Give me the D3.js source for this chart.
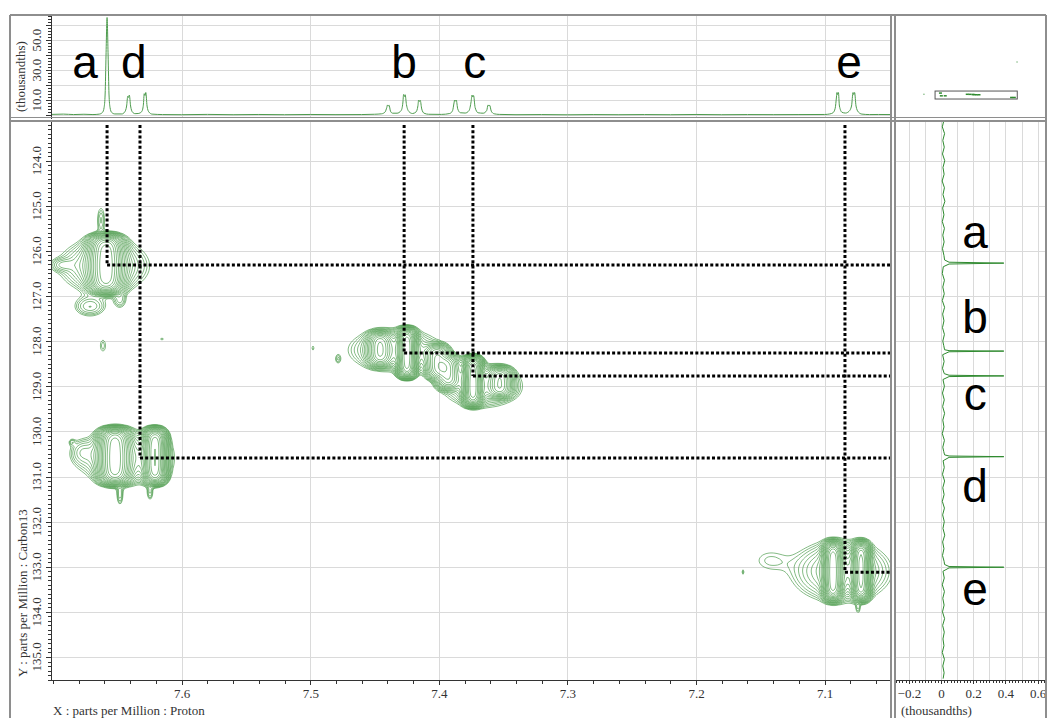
<!DOCTYPE html>
<html lang="en">
<head>
<meta charset="UTF-8">
<title>HSQC</title>
<script src="https://cdn.jsdelivr.net/npm/d3@7"></script>
<style>
  body { margin: 0; background: #fff; }
  .grid line { stroke: #dadada; stroke-width: 1; shape-rendering: crispEdges; }
  .axis path, .axis line { stroke: #333; stroke-width: 1; fill: none; shape-rendering: crispEdges; }
  .axis text, .lbl { font-family: "Liberation Serif", "Times New Roman", Tinos, "DejaVu Serif", serif; font-size: 13px; fill: #333; }
  .frame line { stroke: #8e8e8e; stroke-width: 1.6; shape-rendering: crispEdges; }
  .letter { font-family: "Liberation Sans", Arial, sans-serif; font-size: 46px; fill: #000; text-anchor: middle; }
  .guide { stroke: #000; stroke-width: 3; stroke-dasharray: 3 2.2; fill: none; }
</style>
</head>
<body>
<svg id="chart" width="1049" height="718"></svg>
<script>
// ---------------- data ----------------
var hTicks = [7.6, 7.5, 7.4, 7.3, 7.2, 7.1];
var cTicks = [124, 125, 126, 127, 128, 129, 130, 131, 132, 133, 134, 135];
var topTicks = [10, 30, 50];
var topGrid = [0, 10, 20, 30, 40, 50, 60];
var projTicks = [-0.2, 0, 0.2, 0.4, 0.6];
var projGrid = [-0.2, -0.1, 0, 0.1, 0.2, 0.3, 0.4, 0.5, 0.6];

var assignLabels = ["a", "b", "c", "d", "e"];
var assignH = [7.658, 7.427, 7.3735, 7.6324, 7.0842];
var assignC = [126.31, 128.26, 128.77, 130.59, 133.12];
var labelTopH = [7.6752, 7.427, 7.372, 7.6373, 7.0811];
var labelTopVal = 25;
var labelProjC = [125.94, 127.82, 129.53, 131.57, 133.85];
var labelProjVal = 0.212;

// 1H trace on top (ppm, thousandths)
var topSpec = [
  [7.7016,0.4],[7.692,0.6],[7.684,0.3],[7.676,0.5],[7.669,0.3],
  [7.664,0.6],[7.6615,1.8],[7.6603,5],[7.6595,14],[7.6588,40],[7.658,65],[7.6572,40],[7.6565,14],[7.6557,5],[7.6545,1.8],[7.652,0.7],
  [7.6465,0.7],[7.6443,2],[7.6428,6],[7.6419,12.5],[7.6413,11.7],[7.6407,13.3],[7.6397,6],[7.6383,2],[7.6362,0.9],
  [7.6338,1],[7.6311,2.2],[7.6298,6.5],[7.6291,14.2],[7.6285,13],[7.6279,15],[7.6269,6],[7.6255,2],[7.623,0.6],
  [7.615,0.3],[7.60,0.2],[7.58,0.4],[7.56,0.2],[7.54,0.35],[7.52,0.2],[7.50,0.35],[7.48,0.25],[7.46,0.3],[7.45,0.5],
  [7.4445,0.8],[7.4418,2],[7.4405,5],[7.4399,6.7],[7.4393,6],[7.4387,6.5],[7.4376,2.5],[7.436,1.2],
  [7.4325,1.2],[7.4293,3],[7.428,8],[7.4274,13.7],[7.4268,12.3],[7.4262,13.5],[7.4252,7],[7.4232,2.2],[7.4205,1],
  [7.4178,2],[7.4163,6],[7.4157,10],[7.4151,9],[7.4145,9.8],[7.4133,4],[7.4115,1.2],[7.408,0.5],
  [7.398,0.4],[7.3915,1],[7.3893,3],[7.3882,8],[7.3877,10],[7.3871,9.2],[7.3865,10],[7.3853,4],[7.3832,1.5],
  [7.3795,1.3],[7.3765,3],[7.3749,9],[7.3742,13.3],[7.3736,12],[7.373,13],[7.3718,5],[7.3695,1.5],
  [7.3655,1.2],[7.3628,3],[7.3617,6.7],[7.3611,6],[7.3605,6.5],[7.3592,2.5],[7.357,0.8],[7.353,0.4],
  [7.34,0.2],[7.32,0.3],[7.30,0.15],[7.28,0.3],[7.26,0.2],[7.24,0.3],[7.22,0.2],[7.20,0.35],[7.18,0.2],[7.16,0.3],[7.14,0.25],[7.12,0.3],[7.10,0.35],[7.096,0.7],
  [7.0935,1.5],[7.0918,4.5],[7.0908,12],[7.0904,15],[7.0899,13.6],[7.0893,15],[7.0885,6],[7.0865,1.8],
  [7.0838,1.3],[7.081,2.5],[7.0791,6],[7.0779,15],[7.0773,13.6],[7.0767,15],[7.0756,6],[7.0738,2],[7.071,0.6],
  [7.065,0.3],[7.058,0.35],[7.0484,0.3]
];

// 13C projection on the right (ppm, thousandths)
var projSpec = [
  [123.1,0.018],[123.25,0.008],[123.4,0.022],[123.55,0.011],[123.7,0.020],[123.85,0.009],[124.0,0.023],[124.15,0.012],
  [124.3,0.019],[124.45,0.007],[124.6,0.021],[124.75,0.012],[124.9,0.024],[125.05,0.010],[125.2,0.018],[125.35,0.008],
  [125.5,0.021],[125.65,0.011],[125.8,0.019],[125.95,0.009],[126.1,0.018],
  [126.2,0.022],[126.25,0.05],[126.27,0.39],[126.29,0.05],[126.35,0.014],[126.5,0.008],[126.65,0.021],[126.8,0.011],
  [126.95,0.020],[127.1,0.008],[127.25,0.022],[127.4,0.010],[127.55,0.018],[127.7,0.009],[127.85,0.021],[128.0,0.011],
  [128.1,0.017],[128.19,0.022],[128.21,0.05],[128.22,0.39],[128.235,0.05],[128.3,0.010],[128.45,0.019],[128.6,0.009],
  [128.72,0.02],[128.755,0.05],[128.77,0.39],[128.785,0.05],[128.85,0.012],[129.0,0.021],[129.15,0.009],
  [129.3,0.020],[129.45,0.010],[129.6,0.022],[129.75,0.011],[129.9,0.018],[130.05,0.008],[130.2,0.021],[130.35,0.011],
  [130.45,0.017],[130.52,0.022],[130.545,0.05],[130.56,0.39],[130.575,0.05],[130.65,0.013],[130.8,0.020],[130.95,0.009],
  [131.1,0.022],[131.25,0.011],[131.4,0.019],[131.55,0.008],[131.7,0.021],[131.85,0.010],[132.0,0.020],[132.15,0.012],
  [132.3,0.023],[132.45,0.010],[132.6,0.018],[132.75,0.009],[132.88,0.019],
  [132.95,0.022],[132.995,0.05],[133.01,0.39],[133.025,0.05],[133.1,0.012],[133.25,0.020],[133.4,0.008],
  [133.55,0.021],[133.7,0.011],[133.85,0.019],[134.0,0.009],[134.15,0.022],[134.3,0.010],[134.45,0.020],
  [134.6,0.012],[134.75,0.018],[134.9,0.008],[135.05,0.021],[135.2,0.011],[135.35,0.019],[135.48,0.013]
];

// cross peaks: [H ppm, C ppm, H width, C width, intensity, C shape]
var crossPeaks = [
  // a
  [7.6588, 126.29, 0.0093, 0.5765, 1.0, 6],
  [7.6604, 126.33, 0.0250, 0.44, 0.15, 2],
  [7.6930, 126.31, 0.0080, 0.12, 0.045, 2],
  [7.6627, 125.31, 0.0031, 0.31, 0.04, 2],
  [7.6713, 127.23, 0.0109, 0.20, 0.06, 2],
  [7.6480, 127.09, 0.0047, 0.18, 0.04, 2],
  [7.6612, 128.10, 0.0031, 0.20, 0.03, 2],
  [7.6153, 127.953, 0.0019, 0.0554, 0.028, 2],
  // d
  [7.6519, 130.548, 0.0086, 0.554, 1.0, 6],
  [7.6207, 130.548, 0.0062, 0.554, 0.85, 6],
  [7.6441, 130.59, 0.0272, 0.44, 0.13, 2],
  [7.6853, 130.237, 0.0023, 0.0665, 0.03, 2],
  [7.6775, 130.46, 0.0080, 0.24, 0.04, 2],
  [7.6480, 131.41, 0.0023, 0.22, 0.045, 2],
  [7.6246, 131.35, 0.0023, 0.18, 0.04, 2],
  // b
  [7.4248, 128.264, 0.0051, 0.488, 1.0, 6],
  [7.4458, 128.175, 0.0070, 0.33, 0.4, 4],
  [7.4014, 128.463, 0.0070, 0.33, 0.35, 4],
  [7.4341, 128.196, 0.0272, 0.36, 0.12, 2],
  // c
  [7.3735, 128.885, 0.0051, 0.488, 1.0, 6],
  [7.3929, 128.685, 0.0070, 0.33, 0.35, 4],
  [7.3525, 128.907, 0.0070, 0.29, 0.4, 4],
  [7.3665, 128.995, 0.0233, 0.36, 0.12, 2],
  [7.4979, 128.153, 0.0019, 0.0887, 0.026, 2],
  [7.4784, 128.397, 0.0023, 0.111, 0.03, 2],
  // e
  [7.0935, 133.098, 0.0051, 0.576, 1.0, 6],
  [7.0717, 133.098, 0.0047, 0.576, 0.9, 6],
  [7.0873, 133.10, 0.0280, 0.50, 0.15, 2],
  [7.1431, 132.86, 0.0156, 0.30, 0.025, 2],
  [7.1635, 133.12, 0.0016, 0.0887, 0.025, 2],
  [7.0725, 131.878, 0.0019, 0.0554, 0.025, 2],
  [7.0740, 133.918, 0.0016, 0.133, 0.03, 2]
];
var levels = [0.02, 0.025, 0.031, 0.039, 0.049, 0.061, 0.076, 0.095, 0.12, 0.15, 0.19, 0.24, 0.3, 0.37, 0.46, 0.58, 0.72, 0.9];

var overviewExtra = [[7.79, 128], [7.05, 78]];

// ---------------- layout ----------------
var svg = d3.select("#chart");
var L = 51, R = 891, T = 121, B = 680;     // 2D plot
var TT = 15, TB = 118;                      // top trace
var PL = 895, PR = 1046;                    // right trace
var green = "#55a055";

var x = d3.scaleLinear().domain([7.7016, 7.0484]).range([L, R]);
var y = d3.scaleLinear().domain([123.12, 135.51]).range([T, B]);
var yTop = d3.scaleLinear().domain([-2, 66.67]).range([TB, TT]);
var xr = d3.scaleLinear().domain([-0.286, 0.652]).range([PL, PR]);
var xo = d3.scaleLinear().domain([8.02, 6.82]).range([PL, PR]);
var yo = d3.scaleLinear().domain([5, 165]).range([TT, TB]);

svg.append("rect").attr("width", 1049).attr("height", 718).attr("fill", "#fff");

var defs = svg.append("defs");
defs.append("clipPath").attr("id", "clipMain").append("rect")
  .attr("x", L).attr("y", T).attr("width", R - L).attr("height", B - T);
defs.append("clipPath").attr("id", "clipTop").append("rect")
  .attr("x", L).attr("y", TT).attr("width", R - L).attr("height", TB - TT);

// ---------------- grids ----------------
var grid = svg.append("g").attr("class", "grid");
grid.selectAll(".gv").data(hTicks).enter().append("line")
  .attr("x1", d => Math.round(x(d)) + 0.5).attr("x2", d => Math.round(x(d)) + 0.5)
  .attr("y1", T).attr("y2", B);
grid.selectAll(".gvt").data(hTicks).enter().append("line")
  .attr("x1", d => Math.round(x(d)) + 0.5).attr("x2", d => Math.round(x(d)) + 0.5)
  .attr("y1", TT).attr("y2", TB);
grid.selectAll(".gh").data(cTicks).enter().append("line")
  .attr("x1", L).attr("x2", R)
  .attr("y1", d => Math.round(y(d)) + 0.5).attr("y2", d => Math.round(y(d)) + 0.5);
grid.selectAll(".ght").data(topGrid).enter().append("line")
  .attr("x1", L).attr("x2", R)
  .attr("y1", d => Math.round(yTop(d)) + 0.5).attr("y2", d => Math.round(yTop(d)) + 0.5);
grid.selectAll(".gpv").data(projGrid).enter().append("line")
  .attr("x1", d => Math.round(xr(d)) + 0.5).attr("x2", d => Math.round(xr(d)) + 0.5)
  .attr("y1", T).attr("y2", B);
grid.selectAll(".gph").data(cTicks).enter().append("line")
  .attr("x1", PL).attr("x2", PR)
  .attr("y1", d => Math.round(y(d)) + 0.5).attr("y2", d => Math.round(y(d)) + 0.5);

// ---------------- contours ----------------
var step = 2;
var nx = Math.ceil((R - L) / step) + 1, ny = Math.ceil((B - T) / step) + 1;
var field = new Float64Array(nx * ny);
for (var j = 0; j < ny; j++) {
  var c = y.invert(T + j * step);
  for (var i = 0; i < nx; i++) {
    var h = x.invert(L + i * step);
    var v = 0;
    for (var k = 0; k < crossPeaks.length; k++) {
      var p = crossPeaks[k];
      var dc = Math.abs(c - p[1]) / p[3];
      if (dc > 3) continue;
      var dh = (h - p[0]) / p[2];
      if (dh > 4 || dh < -4) continue;
      v += p[4] * Math.exp(-dh * dh - Math.pow(dc, p[5]));
    }
    field[j * nx + i] = v;
  }
}
var contours = d3.contours().size([nx, ny]).thresholds(levels)(field);
svg.append("g")
  .attr("clip-path", "url(#clipMain)")
  .append("g")
  .attr("transform", "translate(" + (L - step / 2) + "," + (T - step / 2) + ")")
  .selectAll("path").data(contours).enter().append("path")
  .attr("d", d3.geoPath(d3.geoIdentity().scale(step)))
  .attr("fill", "none")
  .attr("stroke", green)
  .attr("stroke-width", 0.8)
  .attr("stroke-opacity", 0.9);

// ---------------- dotted guides ----------------
var guides = svg.append("g");
assignLabels.forEach(function(lab, n) {
  guides.append("line").attr("class", "guide")
    .attr("x1", x(assignH[n])).attr("x2", x(assignH[n]))
    .attr("y1", T + 4).attr("y2", y(assignC[n]));
  guides.append("line").attr("class", "guide")
    .attr("x1", x(assignH[n])).attr("x2", R)
    .attr("y1", y(assignC[n])).attr("y2", y(assignC[n]));
});

// ---------------- 1D traces ----------------
svg.append("path").datum(topSpec)
  .attr("clip-path", "url(#clipTop)")
  .attr("d", d3.line().x(d => x(d[0])).y(d => yTop(d[1])).curve(d3.curveMonotoneX))
  .attr("fill", "none").attr("stroke", "#4e9c4e").attr("stroke-width", 1);

svg.append("path").datum(projSpec)
  .attr("d", d3.line().x(d => xr(d[1])).y(d => y(d[0])))
  .attr("fill", "none").attr("stroke", "#2f8a2f").attr("stroke-width", 1);

// overview box
svg.append("rect")
  .attr("x", xo(7.7016)).attr("y", yo(123.12))
  .attr("width", xo(7.0484) - xo(7.7016)).attr("height", yo(135.51) - yo(123.12))
  .attr("fill", "none").attr("stroke", "#555").attr("stroke-width", 1);
svg.append("g").selectAll("line").data(crossPeaks.filter(d => d[4] >= 0.3)).enter().append("line")
  .attr("x1", d => xo(d[0] + 0.012)).attr("x2", d => xo(d[0] - 0.012))
  .attr("y1", d => yo(d[1])).attr("y2", d => yo(d[1]))
  .attr("stroke", "#2f8a2f").attr("stroke-width", 1.5);
svg.append("g").selectAll("circle").data(overviewExtra).enter().append("circle")
  .attr("cx", d => xo(d[0])).attr("cy", d => yo(d[1])).attr("r", 0.8)
  .attr("fill", "#7fb87f");

// ---------------- axes ----------------
var minorH = d3.range(770, 704, -2).map(d => d / 100);
svg.append("g").attr("class", "axis").attr("transform", "translate(0," + B + ")")
  .call(d3.axisBottom(x).tickValues(minorH).tickSize(4).tickSizeOuter(0).tickFormat(""));
svg.append("g").attr("class", "axis").attr("transform", "translate(0," + B + ")")
  .call(d3.axisBottom(x).tickValues(hTicks).tickSize(5).tickSizeOuter(0).tickPadding(4).tickFormat(d3.format(".1f")));

var minorC = d3.range(1232, 1356, 1).map(d => d / 10);
svg.append("g").attr("class", "axis").attr("transform", "translate(" + L + ",0)")
  .call(d3.axisLeft(y).tickValues(minorC).tickSize(3).tickSizeOuter(0).tickFormat(""));
svg.append("g").attr("class", "axis").attr("transform", "translate(" + L + ",0)")
  .call(d3.axisLeft(y).tickValues(cTicks).tickSize(5).tickSizeOuter(0).tickFormat(""));
svg.append("g").selectAll("text").data(cTicks).enter().append("text")
  .attr("class", "lbl").attr("text-anchor", "middle")
  .attr("transform", d => "translate(41," + y(d) + ") rotate(-90)")
  .text(d3.format(".1f"));

var minorTop = d3.range(0, 67, 2);
svg.append("g").attr("class", "axis").attr("transform", "translate(" + L + ",0)")
  .call(d3.axisLeft(yTop).tickValues(minorTop).tickSize(3).tickSizeOuter(0).tickFormat(""));
svg.append("g").attr("class", "axis").attr("transform", "translate(" + L + ",0)")
  .call(d3.axisLeft(yTop).tickValues(topGrid).tickSize(5).tickSizeOuter(0).tickFormat(""));
svg.append("g").selectAll("text").data(topTicks).enter().append("text")
  .attr("class", "lbl").attr("text-anchor", "middle")
  .attr("transform", d => "translate(41," + yTop(d) + ") rotate(-90)")
  .text(d3.format(".1f"));

var minorP = d3.range(-28, 66, 2).map(d => d / 100);
svg.append("g").attr("class", "axis").attr("transform", "translate(0," + B + ")")
  .call(d3.axisBottom(xr).tickValues(minorP).tickSize(3).tickSizeOuter(0).tickFormat(""));
svg.append("g").attr("class", "axis").attr("transform", "translate(0," + B + ")")
  .call(d3.axisBottom(xr).tickValues(projTicks).tickSize(4).tickSizeOuter(0).tickPadding(5)
    .tickFormat(d => d === 0 ? "0" : d3.format(".1f")(d)));
svg.selectAll(".axis").attr("font-family", null).attr("font-size", null);

// axis titles
svg.append("text").attr("class", "lbl").attr("x", 53).attr("y", 715).text("X : parts per Million : Proton");
svg.append("text").attr("class", "lbl").attr("transform", "translate(27,677) rotate(-90)").text("Y : parts per Million : Carbon13");
svg.append("text").attr("class", "lbl").attr("transform", "translate(25,112) rotate(-90)").text("(thousandths)");
svg.append("text").attr("class", "lbl").attr("x", 901).attr("y", 715).text("(thousandths)");

// ---------------- frame ----------------
var frame = svg.append("g").attr("class", "frame");
[[10, TT, 1046, TT], [10, TT, 10, 718], [1046, TT, 1046, 718],
 [10, 117.5, 1046, 117.5], [10, 121, 1046, 121],
 [891, TT, 891, 718], [895, TT, 895, 718]].forEach(function(s) {
  frame.append("line").attr("x1", s[0]).attr("y1", s[1]).attr("x2", s[2]).attr("y2", s[3]);
});

// ---------------- letters ----------------
svg.append("g").selectAll("text").data(assignLabels).enter().append("text")
  .attr("class", "letter")
  .attr("x", (d, n) => x(labelTopH[n])).attr("y", yTop(labelTopVal))
  .text(d => d);
svg.append("g").selectAll("text").data(assignLabels).enter().append("text")
  .attr("class", "letter")
  .attr("x", xr(labelProjVal)).attr("y", (d, n) => y(labelProjC[n]))
  .text(d => d);
</script>
</body>
</html>
